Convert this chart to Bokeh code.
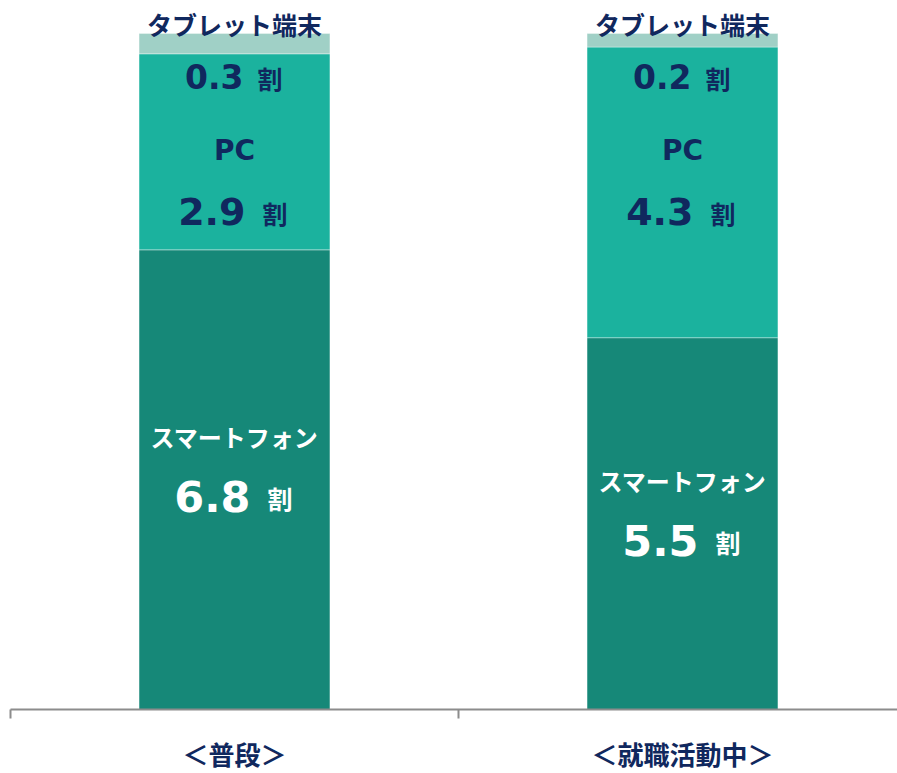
from bokeh.plotting import figure
from bokeh.models import ColumnDataSource, FixedTicker, Range1d
from bokeh.core.properties import value
from bokeh.embed import file_html
from bokeh.resources import INLINE

# ---- data ----
categories = ["＜普段＞", "＜就職活動中＞"]
smartphone = [6.8, 5.5]
pc = [2.9, 4.3]
tablet = [0.3, 0.2]
series_names = ["スマートフォン", "PC", "タブレット端末"]
unit = "割"

NAVY = "#10285E"
C_SMART = "#168878"
C_PC = "#1BB29E"
C_TAB = "#A0D0C6"
JP = value("Noto Sans CJK JP")
NUM = value("DejaVu Sans")

xs = [i + 0.5 for i in range(len(categories))]
totals = [a + b + c for a, b, c in zip(smartphone, pc, tablet)]

src = ColumnDataSource(dict(
    x=xs, smart=smartphone, pc=pc, tablet=tablet, total=totals,
    smart_mid=[v / 2 for v in smartphone],
    smart_txt=[f"{v:.1f}" for v in smartphone],
    pc_txt=[f"{v:.1f}" for v in pc],
    tab_txt=[f"{v:.1f}" for v in tablet],
    smart_name=[series_names[0]] * len(xs),
    pc_name=[series_names[1]] * len(xs),
    tab_name=[series_names[2]] * len(xs),
    unit=[unit] * len(xs),
))

p = figure(frame_width=887, frame_height=709, output_backend="svg", toolbar_location=None,
           x_range=Range1d(0, 887 / 448), y_range=Range1d(0, 10.489),
           y_axis_location=None, min_border_left=10, min_border_right=0,
           min_border_top=0, min_border_bottom=0)
p.outline_line_color = None
p.xgrid.visible = False
p.ygrid.visible = False
p.background_fill_color = "white"
p.border_fill_color = "white"

p.vbar_stack(["smart", "pc", "tablet"], x="x", width=0.426, source=src,
             color=[C_SMART, C_PC, C_TAB], line_color="white", line_alpha=0.35,
             line_width=1)

# axis
ax = p.xaxis[0]
ax.ticker = FixedTicker(ticks=xs, minor_ticks=[0, 1, 2])
ax.major_label_overrides = {x: c for x, c in zip(xs, categories)}
ax.axis_line_color = "#8C8C8C"
ax.axis_line_width = 2
ax.major_tick_line_color = None
ax.major_tick_out = 0
ax.major_tick_in = 0
ax.minor_tick_line_color = "#8C8C8C"
ax.minor_tick_line_width = 2
ax.minor_tick_out = 9
ax.minor_tick_in = 0
ax.major_label_text_font = "Noto Sans CJK JP"
ax.major_label_text_font_style = "bold"
ax.major_label_text_font_size = "26px"
ax.major_label_text_color = NAVY
ax.major_label_standoff = 16

# smartphone texts
p.text(x="x", y="smart_mid", text="smart_name", source=src, text_align="center",
       text_baseline="middle", y_offset=-43, text_font=JP, text_font_style="bold",
       text_font_size="24px", text_color="white")
p.text(x="x", y="smart_mid", text="smart_txt", source=src, text_align="right",
       text_baseline="alphabetic", y_offset=17, x_offset=16, text_font=NUM,
       text_font_style="bold", text_font_size="43px", text_color="white")
p.text(x="x", y="smart_mid", text="unit", source=src, text_align="left",
       text_baseline="alphabetic", y_offset=18, x_offset=33, text_font=JP,
       text_font_style="bold", text_font_size="25px", text_color="white")

# PC texts
p.text(x="x", y="total", text="pc_name", source=src, text_align="center",
       text_baseline="middle", y_offset=117, text_font=NUM, text_font_style="bold",
       text_font_size="28px", text_color=NAVY)
p.text(x="x", y="total", text="pc_txt", source=src, text_align="right",
       text_baseline="alphabetic", y_offset=178, x_offset=11, text_font=NUM,
       text_font_style="bold", text_font_size="38px", text_color=NAVY)
p.text(x="x", y="total", text="unit", source=src, text_align="left",
       text_baseline="alphabetic", y_offset=179, x_offset=28, text_font=JP,
       text_font_style="bold", text_font_size="25px", text_color=NAVY)

# tablet texts
p.text(x="x", y="total", text="tab_name", source=src, text_align="center",
       text_baseline="middle", y_offset=-10, text_font=JP, text_font_style="bold",
       text_font_size="25px", text_color=NAVY)
p.text(x="x", y="total", text="tab_txt", source=src, text_align="right",
       text_baseline="alphabetic", y_offset=43, x_offset=9, text_font=NUM,
       text_font_style="bold", text_font_size="33px", text_color=NAVY)
p.text(x="x", y="total", text="unit", source=src, text_align="left",
       text_baseline="alphabetic", y_offset=44, x_offset=23, text_font=JP,
       text_font_style="bold", text_font_size="25px", text_color=NAVY)

open("out.html", "w").write(file_html(p, INLINE))
